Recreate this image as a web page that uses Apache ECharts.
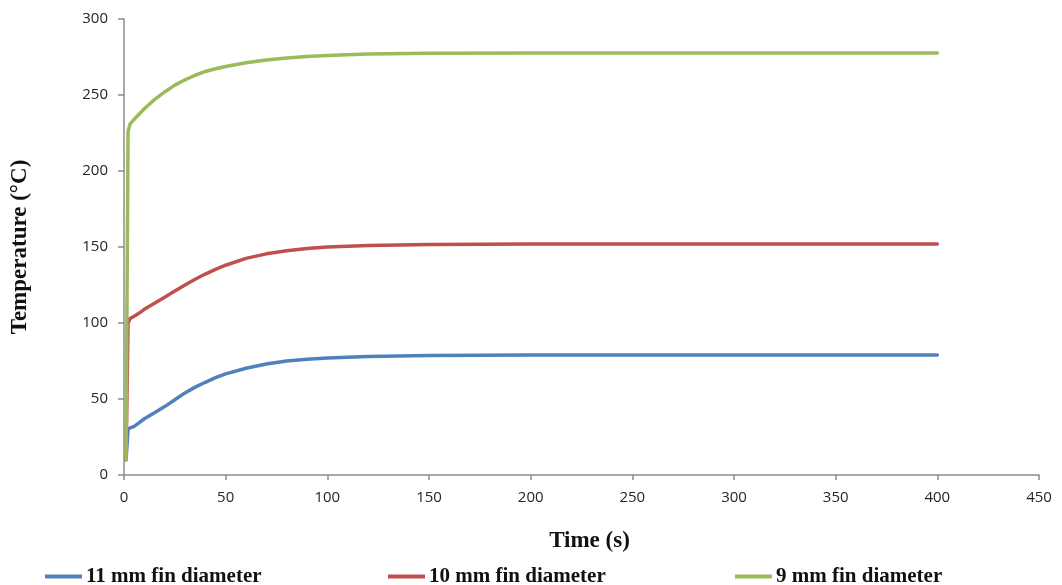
<!DOCTYPE html>
<html>
<head>
<meta charset="utf-8">
<script src="https://cdn.jsdelivr.net/npm/echarts@6/dist/echarts.min.js"></script>
<style>
  html, body { margin: 0; padding: 0; background: #fff; }
  #chart { width: 1062px; height: 585px; }
</style>
</head>
<body>
<div id="chart"></div>
<script>
// Time (s) at which temperatures were sampled
const times = [1, 2, 3, 5, 7.5, 10, 15, 20, 25, 30, 35, 40, 45, 50, 60, 70, 80, 90, 100, 120, 150, 200, 250, 300, 350, 400];

// Temperature (°C) for each fin diameter
const fin11mm = [10, 30, 31, 32, 34.5, 37, 41, 45, 49.5, 54, 57.8, 61, 64, 66.5, 70.2, 73, 75, 76.2, 77, 78, 78.6, 78.9, 79, 79, 79, 79];
const fin10mm = [10, 100, 103, 104.5, 106.5, 109, 113, 117, 121, 125, 128.8, 132.2, 135.3, 138, 142.5, 145.5, 147.5, 149, 150, 151, 151.6, 151.9, 152, 152, 152, 152];
const fin9mm  = [10, 226, 231, 234, 237.5, 241, 247, 252, 256.5, 260, 263, 265.5, 267.3, 268.8, 271.2, 273, 274.4, 275.3, 276, 276.9, 277.4, 277.7, 277.7, 277.7, 277.7, 277.7];

const seriesNames = ['11 mm fin diameter', '10 mm fin diameter', '9 mm fin diameter'];
const seriesColors = ['#4F81BD', '#C0504D', '#9BBB59'];
const seriesValues = [fin11mm, fin10mm, fin9mm];

const serif = '"Liberation Serif", "DejaVu Serif", serif';
const sans = '"Open Sans", "Liberation Sans", sans-serif';

const pair = (vals) => times.map((t, i) => [t, vals[i]]);

const legendLefts = [45, 388, 735];

const chart = echarts.init(document.getElementById('chart'), null, { renderer: 'canvas' });
chart.setOption({
  animation: false,
  backgroundColor: '#ffffff',
  grid: { left: 124, right: 23, top: 19, bottom: 110, containLabel: false },
  xAxis: {
    type: 'value',
    min: 0, max: 450, interval: 50,
    name: 'Time (s)',
    nameLocation: 'middle',
    nameGap: 55,
    nameTextStyle: { fontFamily: serif, fontWeight: 'bold', fontSize: 23, color: '#111', padding: [0, 0, 0, 16] },
    axisLine: { show: true, lineStyle: { color: '#8c8c8c', width: 1.5 } },
    axisTick: { show: true, inside: false, length: 5, lineStyle: { color: '#8c8c8c', width: 1.5 } },
    axisLabel: { fontFamily: sans, fontSize: 15, color: '#262626', margin: 15 },
    splitLine: { show: false }
  },
  yAxis: {
    type: 'value',
    min: 0, max: 300, interval: 50,
    name: 'Temperature (°C)',
    nameLocation: 'middle',
    nameGap: 92,
    nameRotate: 90,
    nameTextStyle: { fontFamily: serif, fontWeight: 'bold', fontSize: 23, color: '#111' },
    axisLine: { show: true, lineStyle: { color: '#8c8c8c', width: 1.5 } },
    axisTick: { show: true, inside: false, length: 6, lineStyle: { color: '#8c8c8c', width: 1.5 } },
    axisLabel: { fontFamily: sans, fontSize: 15, color: '#262626', margin: 16 },
    splitLine: { show: false }
  },
  legend: seriesNames.map((name, i) => ({
    data: [name],
    left: legendLefts[i],
    top: 566,
    padding: 0,
    icon: 'rect',
    itemWidth: 37,
    itemHeight: 4,
    textStyle: { fontFamily: serif, fontWeight: 'bold', fontSize: 21, color: '#111', padding: [0, 0, 0, -1] }
  })),
  series: seriesNames.map((name, i) => ({
    name,
    type: 'line',
    data: pair(seriesValues[i]),
    showSymbol: false,
    smooth: false,
    lineStyle: { color: seriesColors[i], width: 3.5, join: 'round', cap: 'round' },
    itemStyle: { color: seriesColors[i] }
  }))
});
</script>
</body>
</html>
